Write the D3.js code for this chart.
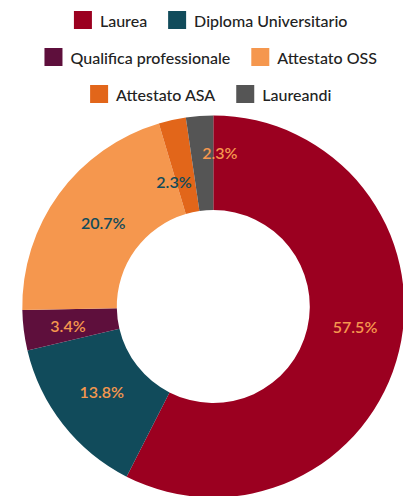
<!DOCTYPE html>
<html>
<head>
<meta charset="utf-8">
<script src="https://cdn.jsdelivr.net/npm/d3@7"></script>
<style>
  html, body { margin: 0; padding: 0; background: #fff; overflow: hidden; }
  svg { display: block; }
  text { font-family: Lato, "Open Sans", sans-serif; }
</style>
</head>
<body>
<svg id="chart" width="403" height="496"></svg>
<script>
// ---- data ----
const categories = ["Laurea", "Diploma Universitario", "Qualifica professionale", "Attestato OSS", "Attestato ASA", "Laureandi"];
const values = [57.5, 13.8, 3.4, 20.7, 2.3, 2.3];
const valueLabels = ["57.5%", "13.8%", "3.4%", "20.7%", "2.3%", "2.3%"];
const legendRows = [[0, 1], [2, 3], [4, 5]];

// ---- styles ----
const colors = ["#9b0020", "#114b5b", "#5e0f3c", "#f5974e", "#e2661a", "#555555"];
const labelColors = ["#f5974e", "#f5974e", "#f5974e", "#114b5b", "#114b5b", "#f5974e"];

const W = 403, H = 496;
const cx = 213.3, cy = 306.5, outerR = 191, innerR = 96.5;
// small label placement adjustments (collision avoidance in the original)
const labelNudge = [[2, -14], [1.5, -4.3], [-2.7, 0.5], [6, 0.6], [-8.4, 15.5], [17, -11]];

const svg = d3.select("#chart");

const data = categories.map((c, i) => ({ cat: c, value: values[i], label: valueLabels[i], i }));
const pie = d3.pie().sort(null).value(d => d.value);
const arcs = pie(data);
const arc = d3.arc().innerRadius(innerR).outerRadius(outerR);
const labelArc = d3.arc().innerRadius((innerR + outerR) / 2).outerRadius((innerR + outerR) / 2);

const g = svg.append("g").attr("transform", `translate(${cx},${cy})`);
g.selectAll("path.slice").data(arcs).enter().append("path")
  .attr("class", "slice")
  .attr("d", arc)
  .attr("fill", d => colors[d.data.i]);

g.selectAll("text.val").data(arcs).enter().append("text")
  .attr("class", "val")
  .attr("x", d => labelArc.centroid(d)[0] + labelNudge[d.data.i][0])
  .attr("y", d => labelArc.centroid(d)[1] + labelNudge[d.data.i][1])
  .attr("text-anchor", "middle")
  .attr("dominant-baseline", "central")
  .attr("font-size", 16)
  .attr("font-weight", 600)
  .attr("fill", d => labelColors[d.data.i])
  .text(d => d.data.label);

// ---- legend ----
const legend = svg.append("g");
const sw = 18, gapText = 8, gapItem = 21, rowY0 = 20, rowStep = 37, legendCx = 210.7;
legendRows.forEach((row, r) => {
  const rg = legend.append("g");
  let x = 0;
  row.forEach(idx => {
    const ig = rg.append("g").attr("transform", `translate(${x},0)`);
    ig.append("rect").attr("x", 0).attr("y", -sw / 2).attr("width", sw).attr("height", sw).attr("fill", colors[idx]);
    const t = ig.append("text")
      .attr("x", sw + gapText).attr("y", 0)
      .attr("dominant-baseline", "central")
      .attr("font-size", 16)
      .attr("font-weight", 500)
      .attr("fill", "#222")
      .text(categories[idx]);
    x += sw + gapText + t.node().getComputedTextLength() + gapItem;
  });
  const total = x - gapItem;
  rg.attr("transform", `translate(${legendCx - total / 2},${rowY0 + r * rowStep})`);
});
</script>
</body>
</html>
